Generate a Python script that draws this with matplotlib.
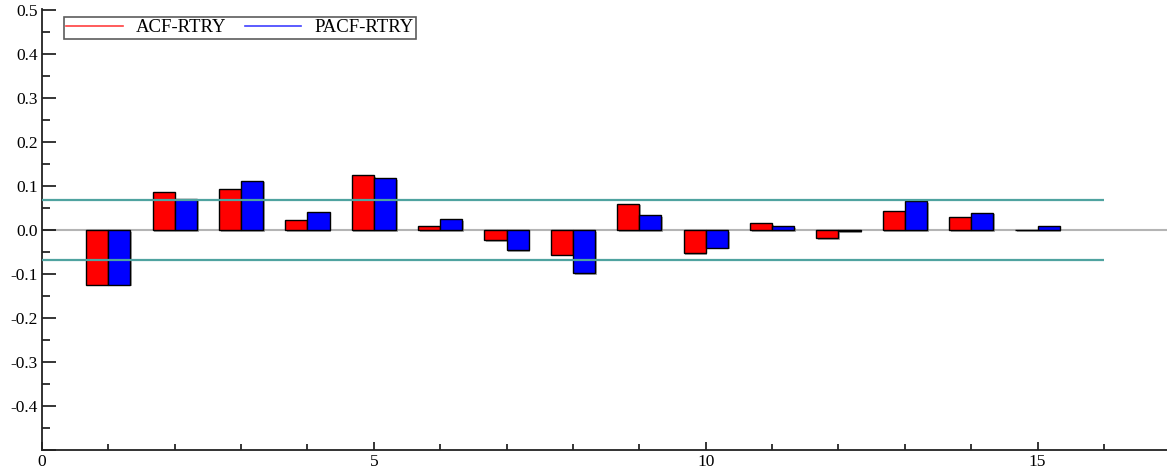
import numpy as np
import matplotlib
matplotlib.use("Agg")
import matplotlib.pyplot as plt
from matplotlib.ticker import MultipleLocator, FuncFormatter
import matplotlib.patheffects as pe

plt.rcParams['font.family'] = ['Liberation Serif', 'DejaVu Serif']

# autocorrelations of RTRY, lags 1..15
lags = np.arange(1, 16)
acf = [-0.124, 0.086, 0.092, 0.022, 0.124, 0.010, -0.023, -0.056,
       0.060, -0.053, 0.016, -0.018, 0.042, 0.030, 0.001]
pacf = [-0.124, 0.071, 0.112, 0.041, 0.118, 0.025, -0.046, -0.098,
        0.034, -0.040, 0.009, -0.003, 0.066, 0.039, 0.008]
band = 0.068   # 2/sqrt(T) significance band
labels = ['ACF-RTRY', 'PACF-RTRY']

fig = plt.figure(figsize=(11.67, 4.73), dpi=100)
ax = fig.add_axes([42 / 1167, 23 / 473, 1 - 42 / 1167, 441 / 473])

w = 1 / 3
shadow = [pe.SimplePatchShadow(offset=(1.2, -1.2), shadow_rgbFace='0.45', alpha=0.6), pe.Normal()]
ax.bar(lags - w, acf, width=w, align='edge', color='red', edgecolor='black',
       linewidth=1, path_effects=shadow, zorder=3)
ax.bar(lags, pacf, width=w, align='edge', color='blue', edgecolor='black',
       linewidth=1, path_effects=shadow, zorder=3)

ax.axhline(0, color='#b4b4b4', lw=1.5, zorder=1)
ax.hlines([band, -band], 0, 16, color='#4fa3a0', lw=1.6, zorder=4)

ax.plot([], [], color='#ff4040', lw=1.2, label=labels[0])
ax.plot([], [], color='#4040ff', lw=1.2, label=labels[1])
leg = ax.legend(loc='upper left', bbox_to_anchor=(0.0196, 0.982), ncol=2,
                fontsize=13.5, frameon=True, fancybox=False, borderaxespad=0,
                handlelength=3.0, columnspacing=1.0, borderpad=0.12,
                handletextpad=0.7)
leg.get_frame().set_edgecolor('#333333')
leg.get_frame().set_linewidth(1.2)

ax.set_xlim(0, 16.95)
ax.set_ylim(-0.5, 0.502)

for s in ['top', 'right']:
    ax.spines[s].set_visible(False)
for s in ['left', 'bottom']:
    ax.spines[s].set_color('#222222')
    ax.spines[s].set_linewidth(1.3)

ax.xaxis.set_major_locator(MultipleLocator(5))
ax.xaxis.set_minor_locator(MultipleLocator(1))
ax.yaxis.set_major_locator(MultipleLocator(0.1))
ax.yaxis.set_minor_locator(MultipleLocator(0.05))
ax.yaxis.set_major_formatter(FuncFormatter(
    lambda v, p: '' if v < -0.45 else f'{v:.1f}'.replace('\u2212', '-').replace('-0.0', '0.0')))

ax.tick_params(axis='y', which='major', direction='in', length=10, width=1.1,
               labelsize=12.5, pad=3)
ax.tick_params(axis='y', which='minor', direction='in', length=6, width=1.1)
ax.tick_params(axis='x', which='major', direction='in', length=6, width=1.1,
               labelsize=12.5, pad=3)
ax.tick_params(axis='x', which='minor', direction='in', length=4, width=1.1)

fig.savefig('out.png', dpi=100)
